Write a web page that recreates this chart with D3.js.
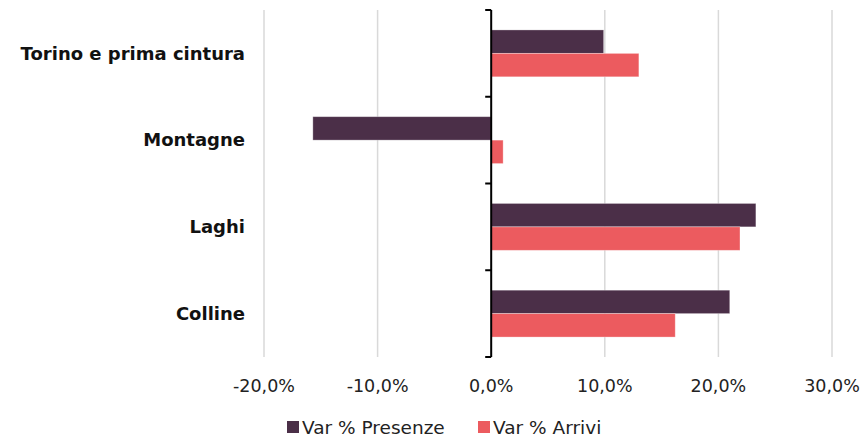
<!DOCTYPE html>
<html>
<head>
<meta charset="utf-8">
<script src="https://cdn.jsdelivr.net/npm/d3@7"></script>
<style>
  body { margin: 0; background: #fff; }
  text { font-family: "DejaVu Sans", sans-serif; }
</style>
</head>
<body>
<div id="chart"></div>
<script>
// data
var categories = ["Torino e prima cintura", "Montagne", "Laghi", "Colline"];
var presenze = [9.9, -15.7, 23.3, 21.0];
var arrivi = [13.0, 1.05, 21.9, 16.2];
var seriesNames = ["Var % Presenze", "Var % Arrivi"];
var seriesColours = ["#4b2f48", "#ec5b5f"];
var xTicks = [-20, -10, 0, 10, 20, 30];

var width = 863, height = 439;
var margin = { top: 10, right: 31, bottom: 82, left: 264 };

var svg = d3.select("#chart").append("svg")
  .attr("width", width)
  .attr("height", height);

var x = d3.scaleLinear()
  .domain([-20, 30])
  .range([margin.left, width - margin.right]);

var y = d3.scaleBand()
  .domain(categories)
  .range([margin.top, height - margin.bottom]);

var inner = d3.scaleBand()
  .domain(seriesNames)
  .range([0, y.bandwidth()])
  .paddingOuter(0.85);

// gridlines
svg.append("g")
  .selectAll("line")
  .data(xTicks)
  .enter()
  .append("line")
    .attr("x1", function(d) { return x(d); })
    .attr("x2", function(d) { return x(d); })
    .attr("y1", margin.top)
    .attr("y2", height - margin.bottom)
    .attr("stroke", "#d9d9d9")
    .attr("stroke-width", 1.5);

// bars
var rows = categories.map(function(c, i) {
  return [
    { cat: c, s: seriesNames[0], v: presenze[i], col: seriesColours[0] },
    { cat: c, s: seriesNames[1], v: arrivi[i], col: seriesColours[1] }
  ];
});

svg.append("g")
  .selectAll("rect")
  .data(d3.merge(rows))
  .enter()
  .append("rect")
    .attr("x", function(d) { return x(Math.min(0, d.v)); })
    .attr("width", function(d) { return Math.abs(x(d.v) - x(0)); })
    .attr("y", function(d) { return y(d.cat) + inner(d.s); })
    .attr("height", inner.bandwidth())
    .attr("fill", function(d) { return d.col; })
    .attr("stroke", "#fff")
    .attr("stroke-opacity", 0.4)
    .attr("stroke-width", 0.8);

// x axis labels
svg.append("g")
  .selectAll("text")
  .data(xTicks)
  .enter()
  .append("text")
    .attr("x", function(d) { return x(d); })
    .attr("y", 392)
    .attr("text-anchor", "middle")
    .attr("font-size", 17.5)
    .attr("fill", "#222")
    .text(function(d) { return d.toFixed(1).replace(".", ",") + "%"; });

// category axis at zero
var axisY = svg.append("g")
  .attr("transform", "translate(" + x(0) + ",0)")
  .call(d3.axisLeft(y).tickSize(0).tickFormat(""));
axisY.select(".domain").remove();

var bounds = y.domain().map(function(c) { return y(c); }).concat([y.range()[1]]);
axisY.append("line")
  .attr("y1", margin.top)
  .attr("y2", height - margin.bottom)
  .attr("stroke", "#000")
  .attr("stroke-width", 2);
axisY.selectAll(".sep")
  .data(bounds)
  .enter()
  .append("line")
    .attr("class", "sep")
    .attr("x1", -6)
    .attr("x2", 0)
    .attr("y1", function(d) { return d; })
    .attr("y2", function(d) { return d; })
    .attr("stroke", "#000")
    .attr("stroke-width", 2);

// category labels
svg.append("g")
  .selectAll("text")
  .data(categories)
  .enter()
  .append("text")
    .attr("x", 245)
    .attr("y", function(d) { return y(d) + y.bandwidth() / 2; })
    .attr("dy", "0.35em")
    .attr("text-anchor", "end")
    .attr("font-size", 18)
    .attr("font-weight", "bold")
    .attr("fill", "#111")
    .text(function(d) { return d; });

// legend
var legendX = [287, 478];
var legend = svg.append("g")
  .selectAll("g")
  .data(seriesNames)
  .enter()
  .append("g")
    .attr("transform", function(d, i) { return "translate(" + legendX[i] + ",421)"; });
legend.append("rect")
  .attr("width", 12)
  .attr("height", 12)
  .attr("fill", function(d, i) { return seriesColours[i]; });
legend.append("text")
  .attr("x", 15)
  .attr("y", 12.5)
  .attr("font-size", 18.5)
  .attr("fill", "#222")
  .text(function(d) { return d; });
</script>
</body>
</html>
